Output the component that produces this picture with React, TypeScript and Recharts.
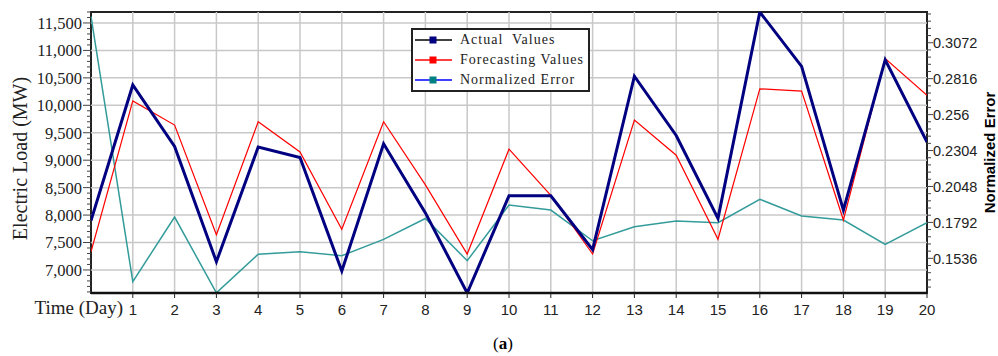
import React from "react";
import {
  LineChart,
  Line,
  XAxis,
  YAxis,
  ReferenceLine,
  ReferenceArea,
  Legend,
} from "recharts";

const DAYS = [0, 1, 2, 3, 4, 5, 6, 7, 8, 9, 10, 11, 12, 13, 14, 15, 16, 17, 18, 19, 20];
const ACTUAL = [
  7900, 10370, 9250, 7150, 9240, 9050, 6980, 9300, 8040, 6580, 8350,
  8350, 7370, 10530, 9450, 7940, 11700, 10710, 8090, 10830, 9330,
];
const FORECAST = [
  7330, 10080, 9640, 7640, 9700, 9150, 7740, 9700, 8550, 7290, 9200,
  8360, 7290, 9730, 9090, 7560, 10300, 10260, 7910, 10850, 10180,
];
const NORM_ERROR = [
  0.326, 0.137, 0.183, 0.129, 0.1565, 0.1583, 0.1555, 0.1671, 0.182, 0.1519, 0.1916,
  0.188, 0.1661, 0.1761, 0.1802, 0.179, 0.1957, 0.1838, 0.1809, 0.1636, 0.179,
];

const DAY_TICKS = [1, 2, 3, 4, 5, 6, 7, 8, 9, 10, 11, 12, 13, 14, 15, 16, 17, 18, 19, 20];
const LOAD_TICKS = [7000, 7500, 8000, 8500, 9000, 9500, 10000, 10500, 11000, 11500];
const ERROR_TICKS = [0.1536, 0.1792, 0.2048, 0.2304, 0.256, 0.2816, 0.3072];

const LOAD_DOMAIN = [6580, 11700];
const ERROR_DOMAIN = [0.1289, 0.3291];

// small ticks: every 100 MW on the left, every 0.00512 on the right
const LOAD_MINOR = Array.from({ length: 52 }, (_, i) => 6600 + i * 100);
const ERROR_MINOR = Array.from({ length: 39 }, (_, i) => +(0.1536 + (i - 4) * 0.00512).toFixed(5));

const SERIF = '"Liberation Serif", "Times New Roman", serif';
const SANS = '"Liberation Sans", Arial, sans-serif';
const TEXT = "#222";

const NAVY = "#000080";
const RED = "#ff0000";
const TEAL = "#339c9a";

const LEGEND_ITEMS = [
  { name: "Actual  Values", line: "#000000", marker: NAVY },
  { name: "Forecasting Values", line: RED, marker: RED },
  { name: "Normalized Error", line: "#0000ff", marker: "#008080" },
];

const chartData = DAYS.map((day, i) => ({
  day,
  actual: ACTUAL[i],
  forecast: FORECAST[i],
  error: NORM_ERROR[i],
}));

const LoadTick = ({ x, y, payload }: any) => {
  const major = LOAD_TICKS.includes(payload.value);
  return (
    <g>
      <line x1={x - (major ? 8 : 4)} x2={x} y1={y} y2={y} stroke="#444" />
      {major && (
        <text x={x - 9} y={y} dy="0.36em" textAnchor="end" fontFamily={SERIF} fontSize={16.5} fill={TEXT}>
          {payload.value.toLocaleString("en-US")}
        </text>
      )}
    </g>
  );
};

const ErrorTick = ({ x, y, payload }: any) => {
  const label = ERROR_TICKS.find((t) => Math.abs(t - payload.value) < 1e-6);
  const major = label !== undefined;
  return (
    <g>
      <line x1={x} x2={x + (major ? 6 : 4)} y1={y} y2={y} stroke="#444" />
      {major && (
        <text x={x + 6} y={y} dy="0.36em" textAnchor="start" fontFamily={SANS} fontSize={14.5} fill={TEXT}>
          {String(label)}
        </text>
      )}
    </g>
  );
};

const DayTick = ({ x, y, payload }: any) => (
  <g>
    <line x1={x} x2={x} y1={y} y2={y + 5} stroke="#222" />
    <text x={x} y={y + 22} textAnchor="middle" fontFamily={SANS} fontSize={15} fill={TEXT}>
      {payload.value}
    </text>
  </g>
);

const LoadTitle = ({ viewBox }: any) => {
  const x = viewBox.x + 27;
  const y = viewBox.y + viewBox.height / 2 + 6;
  return (
    <text x={x} y={y} transform={`rotate(-90, ${x}, ${y})`} textAnchor="middle" fontFamily={SERIF} fontSize={20} fill={TEXT}>
      Electric Load (MW)
    </text>
  );
};

const ErrorTitle = ({ viewBox }: any) => {
  const x = viewBox.x + 68;
  const y = viewBox.y + viewBox.height / 2;
  return (
    <text x={x} y={y} transform={`rotate(-90, ${x}, ${y})`} textAnchor="middle" fontFamily={SANS} fontSize={15} fontWeight="bold" fill="#000">
      Normalized Error
    </text>
  );
};

const DayTitle = ({ viewBox }: any) => (
  <g>
    <text x={viewBox.x + 32} y={viewBox.y + 21} textAnchor="end" fontFamily={SERIF} fontSize={19} fill={TEXT}>
      Time (Day)
    </text>
    <text x={viewBox.x + viewBox.width / 2 - 6} y={viewBox.y + 56} textAnchor="middle" fontFamily={SERIF} fontSize={17} fill="#000">
      (<tspan fontWeight="bold">a</tspan>)
    </text>
  </g>
);

const LegendBox = () => (
  <div style={{ background: "#fff", border: "2px solid #222", fontFamily: SERIF, fontSize: 14, letterSpacing: 1, color: TEXT }}>
    {LEGEND_ITEMS.map((item) => (
      <div key={item.name} style={{ display: "flex", alignItems: "center", height: 20 }}>
        <svg width={47} height={20} style={{ flex: "none" }}>
          <line x1={2} x2={39} y1={10} y2={10} stroke={item.line} strokeWidth={1.5} />
          <rect x={16.5} y={6.5} width={7} height={7} fill={item.marker} />
        </svg>
        <span style={{ whiteSpace: "pre" }}>{item.name}</span>
      </div>
    ))}
  </div>
);

export default function App() {
  return (
    <div style={{ position: "absolute", left: 0, top: 0, width: 998, height: 356, background: "#fff" }}>
      <LineChart width={998} height={356} data={chartData} margin={{ top: 12, right: 0, bottom: 0, left: 0 }}>
        <XAxis
          dataKey="day"
          type="number"
          domain={[0, 20]}
          ticks={DAY_TICKS}
          interval={0}
          height={63}
          allowDataOverflow
          axisLine={{ stroke: "#111", strokeWidth: 2.5 }}
          tickLine={false}
          tickSize={0}
          tickMargin={0}
          tick={<DayTick />}
          label={<DayTitle />}
        />
        <YAxis
          yAxisId="load"
          orientation="left"
          type="number"
          width={91}
          domain={LOAD_DOMAIN}
          ticks={LOAD_MINOR}
          interval={0}
          allowDataOverflow
          axisLine={false}
          tickLine={false}
          tickSize={0}
          tickMargin={0}
          tick={<LoadTick />}
          label={<LoadTitle />}
        />
        <YAxis
          yAxisId="error"
          orientation="right"
          type="number"
          width={71}
          domain={ERROR_DOMAIN}
          ticks={ERROR_MINOR}
          interval={0}
          allowDataOverflow
          axisLine={false}
          tickLine={false}
          tickSize={0}
          tickMargin={0}
          tick={<ErrorTick />}
          label={<ErrorTitle />}
        />

        {LOAD_TICKS.map((v) => (
          <ReferenceLine key={`h${v}`} yAxisId="load" y={v} stroke="#c8c8c8" strokeWidth={1.5} />
        ))}
        {DAY_TICKS.slice(0, -1).map((d) => (
          <ReferenceLine key={`v${d}`} yAxisId="load" x={d} stroke="#c8c8c8" strokeWidth={1.5} />
        ))}
        <ReferenceArea
          yAxisId="load"
          x1={0}
          x2={20}
          y1={LOAD_DOMAIN[0]}
          y2={LOAD_DOMAIN[1]}
          fill="none"
          fillOpacity={0}
          stroke="#222"
          strokeWidth={2}
        />

        <Line yAxisId="error" type="linear" dataKey="error" name="Normalized Error" stroke={TEAL} strokeWidth={1.5} dot={false} isAnimationActive={false} />
        <Line yAxisId="load" type="linear" dataKey="forecast" name="Forecasting Values" stroke={RED} strokeWidth={1.2} dot={false} isAnimationActive={false} />
        <Line yAxisId="load" type="linear" dataKey="actual" name="Actual Values" stroke={NAVY} strokeWidth={3} dot={false} isAnimationActive={false} />

        <Legend
          verticalAlign="middle"
          align="center"
          layout="horizontal"
          wrapperStyle={{ left: 411, top: 28, width: 179 }}
          content={<LegendBox />}
        />
      </LineChart>
    </div>
  );
}
